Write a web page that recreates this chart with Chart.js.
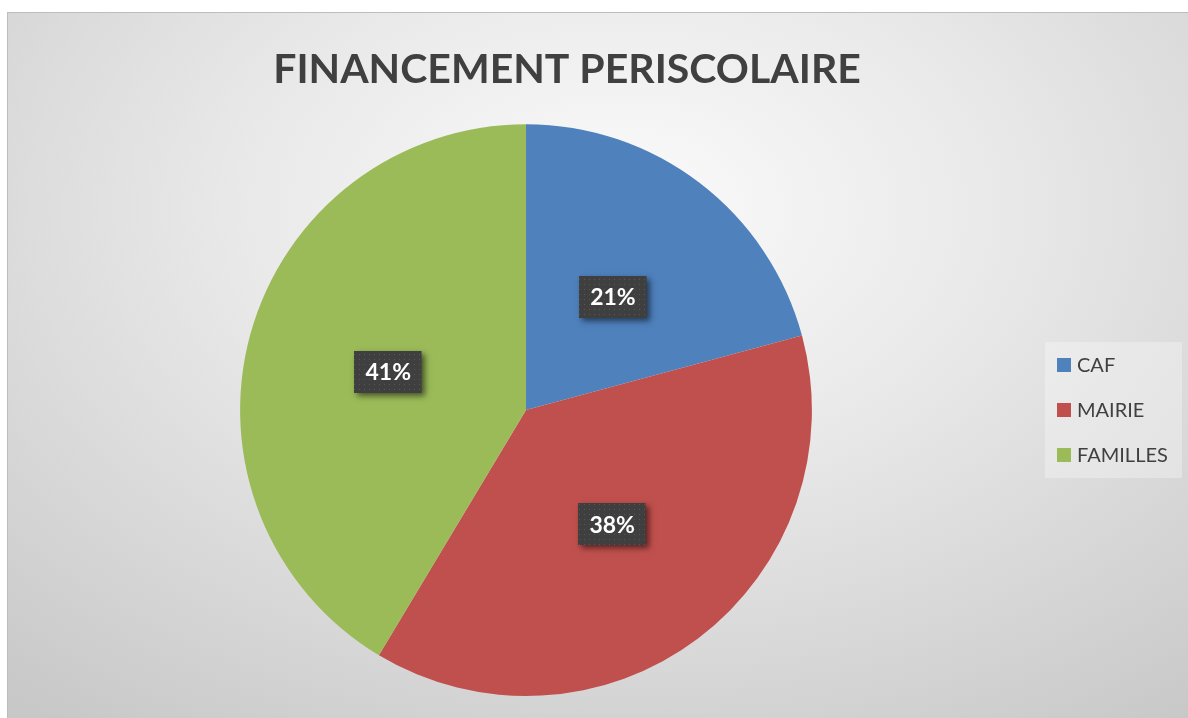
<!DOCTYPE html>
<html>
<head>
<meta charset="utf-8">
<script src="https://cdn.jsdelivr.net/npm/chart.js@4.4.1/dist/chart.umd.min.js"></script>
<style>
  html, body { margin: 0; padding: 0; background: #fff; }
  #wrap {
    position: absolute; left: 7px; top: 12px; width: 1181px; height: 706px;
    background: radial-gradient(ellipse 80% 90% at 52% 28%, #fbfbfb 0%, #e9e9e9 40%, #c8c8c8 100%);
    box-shadow: inset 1px 1px 0 #bdbdbd;
  }
  canvas { display: block; }
</style>
</head>
<body>
<div id="wrap"><canvas id="pie"></canvas></div>
<script>
// données
const TITLE = 'FINANCEMENT PERISCOLAIRE';
const categories = ['CAF', 'MAIRIE', 'FAMILLES'];
const values = [20.8, 37.8, 41.4];
const sliceColors = ['#4F81BD', '#C0504D', '#9BBB59'];

// petit motif pointillé pour les étiquettes
function makeDots() {
    const c = document.createElement('canvas');
    c.width = 5; c.height = 5;
    const g = c.getContext('2d');
    g.fillStyle = '#575757';
    g.fillRect(2, 2, 1, 1);
    return c;
}

// décale le titre comme dans Excel
const titleShift = {
    id: 'titleShift',
    afterLayout(chart) {
        const t = chart.titleBlock;
        if (t) { t.left += 41; t.right += 41; }
    }
};

// étiquettes en pourcentage
const pctLabels = {
    id: 'pctLabels',
    afterDatasetsDraw(chart) {
        const ctx = chart.ctx;
        const meta = chart.getDatasetMeta(0);
        const data = chart.data.datasets[0].data;
        const total = data.reduce((a, b) => a + b, 0);
        const dots = ctx.createPattern(makeDots(), 'repeat');
        ctx.save();
        ctx.font = 'bold 23px Lato';
        meta.data.forEach((arc, i) => {
            const p = arc.tooltipPosition();
            const txt = Math.round(data[i] / total * 100) + '%';
            const w = ctx.measureText(txt).width + 22;
            const h = 42;
            const x = Math.round(p.x - w / 2), y = Math.round(p.y - h / 2);
            ctx.shadowColor = 'rgba(0,0,0,0.55)';
            ctx.shadowBlur = 6;
            ctx.shadowOffsetX = 3;
            ctx.shadowOffsetY = 3;
            ctx.fillStyle = '#3f3f3f';
            ctx.fillRect(x, y, w, h);
            ctx.shadowColor = 'transparent';
            ctx.fillStyle = dots;
            ctx.fillRect(x, y, w, h);
            ctx.fillStyle = '#ffffff';
            ctx.textAlign = 'center';
            ctx.textBaseline = 'middle';
            ctx.fillText(txt, p.x, p.y + 1);
        });
        ctx.restore();
    }
};

// légende à droite avec fond clair
const sideLegend = {
    id: 'sideLegend',
    afterDraw(chart) {
        const ctx = chart.ctx;
        const area = chart.chartArea;
        const labels = chart.data.labels;
        const colors = chart.data.datasets[0].backgroundColor;
        const cy = (area.top + area.bottom) / 2;
        const bx = area.right, bw = 137, bh = 136;
        const by = cy - bh / 2;
        ctx.save();
        ctx.fillStyle = 'rgba(255,255,255,0.3)';
        ctx.fillRect(bx, by, bw, bh);
        ctx.font = '20px Lato';
        ctx.textBaseline = 'middle';
        labels.forEach((lab, i) => {
            const y = cy + (i - 1) * 45;
            ctx.fillStyle = colors[i];
            ctx.fillRect(bx + 12, Math.round(y - 7), 14, 14);
            ctx.fillStyle = '#404040';
            ctx.fillText(lab, bx + 32, y);
        });
        ctx.restore();
    }
};

function createChart() {
    const ctx = document.getElementById('pie').getContext('2d');
    new Chart(ctx, {
        type: 'pie',
        data: {
            labels: categories,
            datasets: [{
                data: values,
                backgroundColor: sliceColors,
                borderWidth: 0
            }]
        },
        options: {
            responsive: true,
            maintainAspectRatio: false,
            animation: false,
            layout: { padding: { left: 0, right: 143, top: 0, bottom: 22 } },
            plugins: {
                legend: { display: false },
                tooltip: { enabled: false },
                title: {
                    display: true,
                    text: TITLE,
                    fullSize: false,
                    color: '#404040',
                    font: { family: 'Lato', size: 41, weight: 'bold', lineHeight: 1.2 },
                    padding: { top: 33, bottom: 30 }
                }
            }
        },
        plugins: [titleShift, pctLabels, sideLegend]
    });
}

Promise.all([
    document.fonts.load('bold 41px Lato'),
    document.fonts.load('20px Lato')
]).then(createChart, createChart);
</script>
</body>
</html>
